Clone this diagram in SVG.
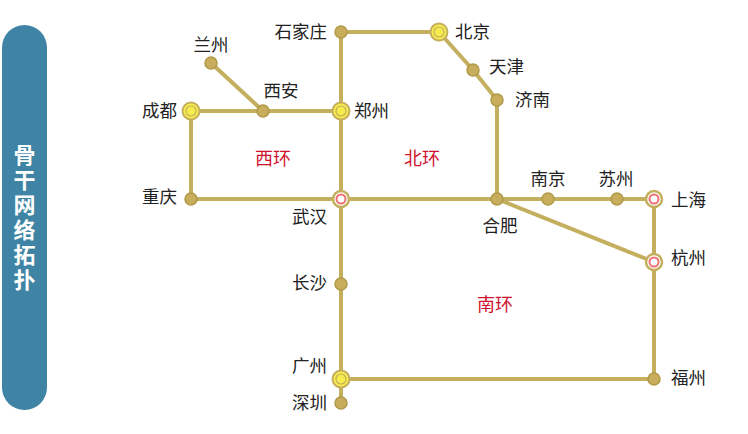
<svg xmlns="http://www.w3.org/2000/svg" width="748" height="434" viewBox="0 0 748 434">
<style>
.ln{stroke:#c4af5f;stroke-width:4;fill:none;stroke-linejoin:round}
.dot{fill:#c8ae5c;stroke:#b09a48;stroke-width:1.5}
.yo{fill:#f7ec4e;stroke:#c4af5f;stroke-width:2}
.yi{fill:none;stroke:#c4af5f;stroke-width:1.2}
.ro{fill:#fff;stroke:#c4af5f;stroke-width:2.5}
.ri{fill:#fff;stroke:#ee7070;stroke-width:2}
.t{font-family:"Noto Sans CJK SC","Noto Sans",sans-serif;font-size:17.5px;fill:#222}
.r{font-family:"Noto Sans CJK SC","Noto Sans",sans-serif;font-size:18px;fill:#d0122e;text-anchor:middle}
.side{font-family:"Noto Sans CJK SC",sans-serif;font-size:22px;font-weight:bold;fill:#fff;writing-mode:vertical-rl;letter-spacing:3px}
</style>
<rect width="748" height="434" fill="#fff"/>
<g id="title">
<rect x="2" y="25" width="45" height="385" rx="22.5" fill="#3f84a4"/>
<text class="side" x="24.5" y="144">骨干网络拓扑</text>
</g>
<g id="connectors">
<line class="ln" x1="211" y1="63" x2="263" y2="111"/>
<line class="ln" x1="191" y1="111" x2="341" y2="111"/>
<line class="ln" x1="191" y1="111" x2="191" y2="199"/>
<line class="ln" x1="191" y1="199" x2="654" y2="199"/>
<line class="ln" x1="341" y1="32" x2="439" y2="32"/>
<line class="ln" x1="341" y1="32" x2="341" y2="403"/>
<polyline class="ln" points="439,32 473,70 497,100 497,199"/>
<line class="ln" x1="497" y1="199" x2="654" y2="262"/>
<line class="ln" x1="654" y1="199" x2="654" y2="379"/>
<line class="ln" x1="341" y1="379" x2="654" y2="379"/>
</g>
<g id="lanzhou"><circle class="dot" cx="211" cy="63" r="6"/><text class="t" x="211" y="51" text-anchor="middle">兰州</text></g>
<g id="xian"><circle class="dot" cx="263" cy="111" r="6"/><text class="t" x="281" y="97" text-anchor="middle">西安</text></g>
<g id="chengdu"><circle class="yo" cx="191" cy="111" r="8.5"/><circle class="yi" cx="191" cy="111" r="5"/><text class="t" x="177" y="117" text-anchor="end">成都</text></g>
<g id="zhengzhou"><circle class="yo" cx="341" cy="111" r="8.5"/><circle class="yi" cx="341" cy="111" r="5"/><text class="t" x="354" y="117">郑州</text></g>
<g id="shijiazhuang"><circle class="dot" cx="341" cy="32" r="6"/><text class="t" x="327" y="38" text-anchor="end">石家庄</text></g>
<g id="beijing"><circle class="yo" cx="439" cy="32" r="8.5"/><circle class="yi" cx="439" cy="32" r="5"/><text class="t" x="455" y="38">北京</text></g>
<g id="tianjin"><circle class="dot" cx="473" cy="70" r="6"/><text class="t" x="489" y="73">天津</text></g>
<g id="jinan"><circle class="dot" cx="497" cy="100" r="6"/><text class="t" x="515" y="106">济南</text></g>
<g id="chongqing"><circle class="dot" cx="191" cy="199" r="6"/><text class="t" x="177" y="203" text-anchor="end">重庆</text></g>
<g id="wuhan"><circle class="ro" cx="341" cy="199" r="8"/><circle class="ri" cx="341" cy="199" r="4.5"/><text class="t" x="327" y="223" text-anchor="end">武汉</text></g>
<g id="hefei"><circle class="dot" cx="497" cy="199" r="6"/><text class="t" x="500" y="232" text-anchor="middle">合肥</text></g>
<g id="nanjing"><circle class="dot" cx="548" cy="199" r="6"/><text class="t" x="548" y="185" text-anchor="middle">南京</text></g>
<g id="suzhou"><circle class="dot" cx="617" cy="199" r="6"/><text class="t" x="616" y="185" text-anchor="middle">苏州</text></g>
<g id="shanghai"><circle class="ro" cx="654" cy="199" r="8"/><circle class="ri" cx="654" cy="199" r="4.5"/><text class="t" x="671" y="206">上海</text></g>
<g id="hangzhou"><circle class="ro" cx="654" cy="262" r="8"/><circle class="ri" cx="654" cy="262" r="4.5"/><text class="t" x="671" y="264">杭州</text></g>
<g id="changsha"><circle class="dot" cx="341" cy="284" r="6"/><text class="t" x="327" y="289" text-anchor="end">长沙</text></g>
<g id="guangzhou"><circle class="yo" cx="341" cy="379" r="8.5"/><circle class="yi" cx="341" cy="379" r="5"/><text class="t" x="327" y="372" text-anchor="end">广州</text></g>
<g id="shenzhen"><circle class="dot" cx="341" cy="403" r="6"/><text class="t" x="327" y="409" text-anchor="end">深圳</text></g>
<g id="fuzhou"><circle class="dot" cx="654" cy="379" r="6"/><text class="t" x="671" y="384">福州</text></g>
<g id="regions">
<text class="r" x="273" y="165">西环</text>
<text class="r" x="422" y="165">北环</text>
<text class="r" x="495" y="311">南环</text>
</g>
</svg>
